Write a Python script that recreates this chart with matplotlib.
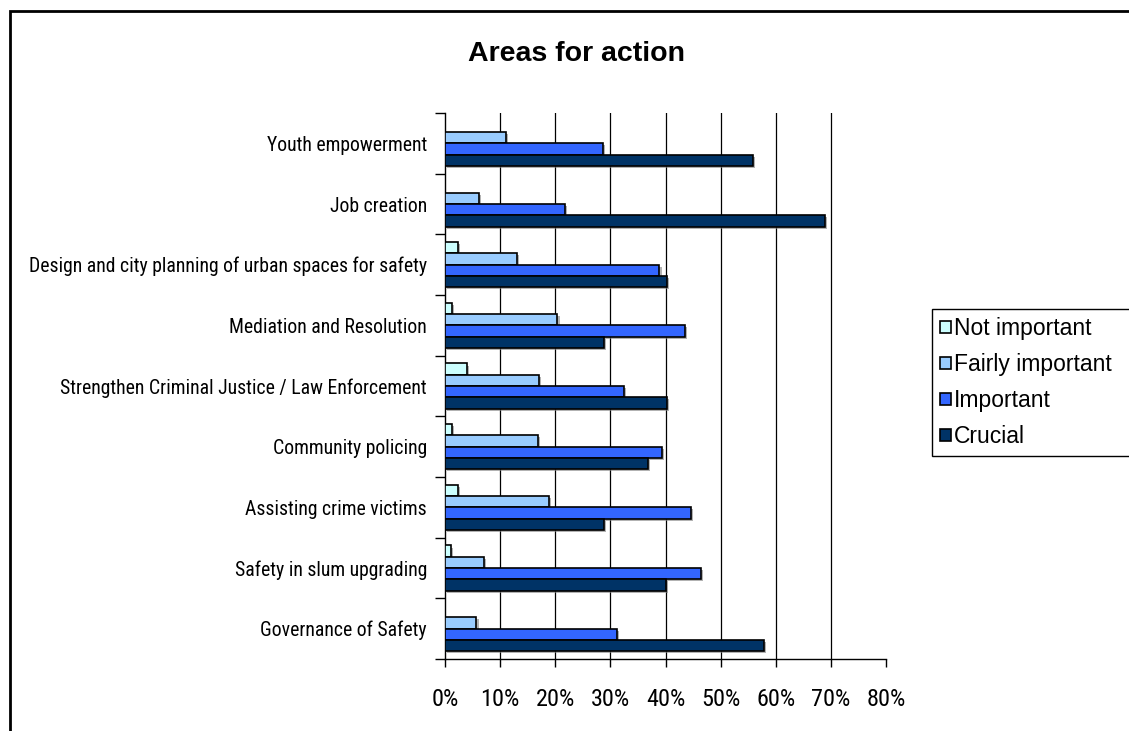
import matplotlib
matplotlib.use("Agg")
import matplotlib.pyplot as plt
import numpy as np
from matplotlib.patches import Patch, Rectangle
from matplotlib import patheffects as pe
from matplotlib import font_manager as fm

categories = [
    "Youth empowerment",
    "Job creation",
    "Design and city planning of urban spaces for safety",
    "Mediation and Resolution",
    "Strengthen Criminal Justice / Law Enforcement",
    "Community policing",
    "Assisting crime victims",
    "Safety in slum upgrading",
    "Governance of Safety",
]
series_names = ["Not important", "Fairly important", "Important", "Crucial"]
not_important = [0.0, 0.0, 2.4, 1.3, 4.0, 1.3, 2.4, 1.0, 0.0]
fairly_important = [11.1, 6.1, 13.1, 20.4, 17.1, 16.8, 18.8, 7.0, 5.7]
important = [28.6, 21.8, 38.9, 43.6, 32.5, 39.3, 44.7, 46.4, 31.2]
crucial = [55.8, 68.9, 40.3, 28.9, 40.3, 36.9, 28.9, 40.0, 57.8]
x_ticks = [0, 10, 20, 30, 40, 50, 60, 70, 80]
x_tick_labels = [f"{t}%" for t in x_ticks]

colors = ["#CCFFFF", "#99CCFF", "#3366FF", "#003366"]


def pick_condensed():
    """Return font properties for a narrow sans face, or None."""
    fonts = fm.fontManager.ttflist
    prefs = ["Liberation Sans Narrow", "Arial Narrow", "Roboto Condensed",
             "Open Sans Condensed", "Noto Sans Condensed"]
    for name in prefs:
        for f in fonts:
            if f.name == name and f.style == "normal" and f.weight in (400, "normal", "regular"):
                return fm.FontProperties(fname=f.fname)
    for f in fonts:
        if (f.stretch in ("condensed", "semi-condensed") or "Condensed" in f.name
                or "Narrow" in f.name) and f.style == "normal" \
                and f.weight in (400, "normal", "regular") and "Mono" not in f.name \
                and "Serif" not in f.name:
            return fm.FontProperties(fname=f.fname)
    return None


narrow_fp = pick_condensed()

W, H = 1129, 731
fig = plt.figure(figsize=(W / 100, H / 100), dpi=100)
fig.patch.set_facecolor("white")

# outer chart frame (left and top edges visible)
fig.patches.append(Rectangle((10 / W, -0.05), 1.2, 1 - 11 / H + 0.05,
                             transform=fig.transFigure, fill=False,
                             edgecolor="black", linewidth=2.0, clip_on=False))

ax = fig.add_axes([445 / W, 1 - 659 / H, (886 - 445) / W, (659 - 113) / H])

n = len(categories)
centers = np.arange(n)[::-1]  # first category at top
bar_h = 0.186
data = [not_important, fairly_important, important, crucial]
shadow = [pe.SimplePatchShadow(offset=(1.5, -1.5), shadow_rgbFace="#808080", alpha=0.6), pe.Normal()]
for i, (vals, col) in enumerate(zip(data, colors)):
    offs = (1.5 - i) * bar_h
    bars = ax.barh(centers + offs, vals, height=bar_h, color=col,
                   edgecolor="black", linewidth=1.2, zorder=3)
    for b in bars:
        b.set_path_effects(shadow)

ax.set_xlim(0, 80)
ax.set_ylim(-0.5, n - 0.5)

# vertical gridlines
for t in x_ticks[1:-1]:
    ax.axvline(t, color="black", linewidth=0.9, zorder=1)

ax.set_xticks(x_ticks)
ax.set_yticks(np.arange(-0.5, n, 1.0), minor=False)
ax.set_yticklabels([])
ax.set_yticks(centers, minor=True)

if narrow_fp is not None:
    xfp = narrow_fp.copy()
    xfp.set_size(17.5)
    yfp = narrow_fp.copy()
    yfp.set_size(14.2)
    ax.set_xticklabels(x_tick_labels, fontproperties=xfp)
    ax.set_yticklabels(categories, minor=True, fontproperties=yfp)
else:
    ax.set_xticklabels(x_tick_labels, fontsize=14, family="Liberation Sans")
    ax.set_yticklabels(categories, minor=True, fontsize=13.2, family="Liberation Sans")

ax.tick_params(axis="x", direction="out", length=6, width=1, pad=15)
ax.tick_params(axis="y", which="major", direction="out", length=7, width=1)
ax.tick_params(axis="y", which="minor", length=0, pad=13)

for s in ["top", "right"]:
    ax.spines[s].set_visible(False)
for s in ["left", "bottom"]:
    ax.spines[s].set_linewidth(1.0)
    ax.spines[s].set_color("black")

fig.text(577 / W, 1 - 54 / H, "Areas for action", ha="center", va="center",
         fontsize=20.5, fontweight="bold", family="Liberation Sans")

handles = [Patch(facecolor=c, edgecolor="black", linewidth=1.2) for c in colors]
leg = fig.legend(handles, series_names, loc="upper left", mode="expand",
                 bbox_to_anchor=(932 / W, 0, 0.2, 1 - 309 / H), frameon=True,
                 fancybox=False, edgecolor="black", framealpha=1,
                 prop={"family": "Liberation Sans", "size": 16.5},
                 handlelength=0.47, handleheight=0.47, handletextpad=0.15,
                 labelspacing=0.57, borderpad=0.35, borderaxespad=0)
leg.get_frame().set_linewidth(1.0)

fig.savefig("out.png", dpi=100)
